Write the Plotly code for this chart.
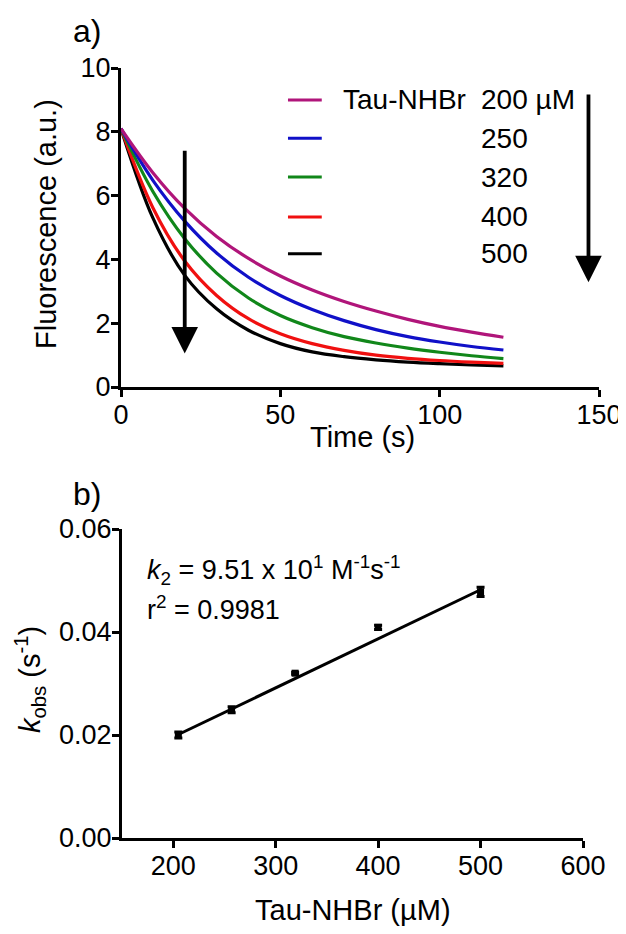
import plotly.graph_objects as go

W, H = 626, 934
OFF = 8  # page body margin offset in the browser


def fx(sx):
    return (sx - OFF) / W


def fy(sy):
    return 1 - (sy - OFF) / H


# ---------------- Panel a data ----------------
time_s = [0, 10, 20, 30, 40, 50, 60, 70, 80, 90, 100, 110, 120]
fl_200 = [8.1, 6.72, 5.6, 4.72, 4.03, 3.48, 3.04, 2.68, 2.38, 2.12, 1.9, 1.72, 1.56]
fl_250 = [8.1, 6.48, 5.2, 4.2, 3.44, 2.87, 2.43, 2.08, 1.8, 1.58, 1.41, 1.27, 1.16]
fl_320 = [8.1, 6.13, 4.65, 3.57, 2.79, 2.24, 1.86, 1.58, 1.38, 1.22, 1.09, 0.98, 0.89]
fl_400 = [8.1, 5.62, 3.95, 2.87, 2.14, 1.67, 1.36, 1.15, 1.0, 0.9, 0.83, 0.78, 0.74]
fl_500 = [8.1, 5.3, 3.5, 2.45, 1.78, 1.36, 1.1, 0.95, 0.85, 0.78, 0.73, 0.69, 0.66]
legend_labels = ["200 µM", "250", "320", "400", "500"]
legend_y = [9.0, 7.8, 6.58, 5.33, 4.18]
colors = ["#B0157A", "#1010C8", "#11871A", "#F01010", "#000000"]

# ---------------- Panel b data ----------------
conc_uM = [205, 257, 319, 400, 500]
kobs = [0.0200, 0.0249, 0.0320, 0.0409, 0.0478]
kobs_err = [0.0006, 0.0006, 0.0002, 0.0004, 0.0009]
fit_x = [205, 500]
fit_y = [0.0201, 0.0482]

FONT = "Liberation Sans"

fig = go.Figure()

series = [fl_200, fl_250, fl_320, fl_400, fl_500]
for ys, c in zip(series[::-1], colors[::-1]):
    fig.add_trace(go.Scatter(x=time_s, y=ys, mode="lines",
                             line=dict(color=c, width=3.2, shape="spline", smoothing=1.0),
                             xaxis="x", yaxis="y", showlegend=False, hoverinfo="skip"))

fig.add_trace(go.Scatter(x=fit_x, y=fit_y, mode="lines",
                         line=dict(color="black", width=3),
                         xaxis="x2", yaxis="y2", showlegend=False))
fig.add_trace(go.Scatter(x=conc_uM, y=kobs, mode="markers",
                         marker=dict(symbol="square", size=7, color="black"),
                         error_y=dict(type="data", array=kobs_err, visible=True,
                                      color="black", thickness=3, width=4),
                         xaxis="x2", yaxis="y2", showlegend=False))


def axis_style(size):
    return dict(showline=True, linecolor="black", linewidth=3, ticks="outside",
                ticklen=7, tickwidth=3, tickcolor="black", showgrid=False,
                zeroline=False, automargin=False, ticklabelstandoff=-5,
                tickfont=dict(family=FONT, size=size, color="black"), mirror=False)


shapes = []
annotations = []

# legend for panel a
for lab, ly, c in zip(legend_labels, legend_y, colors):
    shapes.append(dict(type="line", xref="x", yref="y", x0=52.4, x1=63.0, y0=ly, y1=ly,
                       line=dict(color=c, width=3)))
    annotations.append(dict(xref="x", yref="y", x=112.3, y=ly, text=lab, showarrow=False,
                            xanchor="left", yanchor="middle",
                            font=dict(family=FONT, size=28, color="black")))
annotations.append(dict(xref="x", yref="y", x=69.0, y=legend_y[0], text="Tau-NHBr",
                        showarrow=False, xanchor="left", yanchor="middle",
                        font=dict(family=FONT, size=28, color="black")))

# arrows in panel a
for (xa, y_top, y_tip) in [(20, 7.45, 1.05), (146.7, 9.22, 3.28)]:
    annotations.append(dict(xref="x", yref="y", axref="x", ayref="y",
                            x=xa, y=y_tip, ax=xa, ay=y_top, text="",
                            showarrow=True, arrowhead=2, arrowsize=1.4,
                            arrowwidth=3.8, arrowcolor="black"))

# axis titles & panel labels
annotations += [
    dict(xref="paper", yref="paper", x=fx(46), y=fy(224), text="Fluorescence (a.u.)",
         textangle=-90, showarrow=False, xanchor="center", yanchor="middle",
         font=dict(family=FONT, size=29, color="black")),
    dict(xref="paper", yref="paper", x=fx(362), y=fy(437), text="Time (s)",
         showarrow=False, xanchor="center", yanchor="middle",
         font=dict(family=FONT, size=29, color="black")),
    dict(xref="paper", yref="paper", x=fx(30), y=fy(680),
         text="<i>k</i><sub>obs</sub> (s<sup>-1</sup>)",
         textangle=-90, showarrow=False, xanchor="center", yanchor="middle",
         font=dict(family=FONT, size=29, color="black")),
    dict(xref="paper", yref="paper", x=fx(353), y=fy(910), text="Tau-NHBr (µM)",
         showarrow=False, xanchor="center", yanchor="middle",
         font=dict(family=FONT, size=29, color="black")),
    dict(xref="paper", yref="paper", x=fx(71), y=fy(31), text="a)",
         showarrow=False, xanchor="left", yanchor="middle",
         font=dict(family=FONT, size=32, color="black")),
    dict(xref="paper", yref="paper", x=fx(71), y=fy(494), text="b)",
         showarrow=False, xanchor="left", yanchor="middle",
         font=dict(family=FONT, size=32, color="black")),
    dict(xref="paper", yref="paper", x=fx(145), y=fy(570),
         text="<i>k</i><sub>2</sub> = 9.51 x 10<sup>1</sup> M<sup>-1</sup>s<sup>-1</sup>",
         showarrow=False, xanchor="left", yanchor="middle",
         font=dict(family=FONT, size=27, color="black")),
    dict(xref="paper", yref="paper", x=fx(145), y=fy(608),
         text="r<sup>2</sup> = 0.9981",
         showarrow=False, xanchor="left", yanchor="middle",
         font=dict(family=FONT, size=27, color="black")),
]

fig.update_layout(
    width=W, height=H,
    margin=dict(l=0, r=0, t=0, b=0, pad=0),
    paper_bgcolor="white", plot_bgcolor="white",
    showlegend=False,
    xaxis=dict(domain=[fx(121), fx(599)], range=[0, 150], tickvals=[0, 50, 100, 150],
               anchor="y", **axis_style(27)),
    yaxis=dict(domain=[fy(387), fy(68)], range=[0, 10], tickvals=[0, 2, 4, 6, 8, 10],
               anchor="x", **axis_style(27)),
    xaxis2=dict(domain=[fx(122), fx(583)], range=[150, 600],
                tickvals=[200, 300, 400, 500, 600], anchor="y2", **axis_style(27)),
    yaxis2=dict(domain=[fy(838), fy(529)], range=[0, 0.06],
                tickvals=[0, 0.02, 0.04, 0.06], tickformat=".2f", anchor="x2", **axis_style(27)),
    shapes=shapes,
    annotations=annotations,
)

fig.write_html("out.html")
